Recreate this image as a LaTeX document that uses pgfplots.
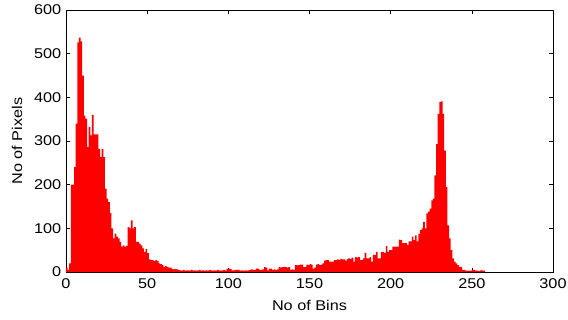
\documentclass[border=0pt]{standalone}
\usepackage{fontspec}
\setmainfont{Liberation Sans}[FakeStretch=1.15]
\usepackage{pgfplots}
\pgfplotsset{compat=1.18}
\begin{document}
\begin{tikzpicture}
\begin{axis}[name=ax,
  width=365.25pt, height=196.5pt, scale only axis,
  xmin=0, xmax=300, ymin=0, ymax=600,
  xtick={0,50,...,300}, ytick={0,100,...,600},
  tick align=inside, major tick length=3pt,
  axis line style={line width=0.6pt},
  every tick/.style={black, line width=0.5pt},
  /pgf/number format/assume math mode=true,
  tick label style={font=\fontsize{10.6}{12}\selectfont},
  label style={font=\fontsize{10.6}{12}\selectfont},
  xlabel={No of Bins}, ylabel={No of Pixels},
  xlabel style={at={(axis description cs:0.5,-0.126)}, anchor=center},
  ylabel style={at={(axis description cs:-0.1006,0.5)}, anchor=center},
  xticklabel style={yshift=-1.5pt},
]
\addplot[ybar interval, fill=red, draw=none] table {
x y
0 10
1 5
2 20
3 200
4 200
5 240
6 340
7 526
8 537
9 528
10 450
11 358
12 351
13 286
14 332
15 313
16 360
17 315
18 315
19 315
20 282
21 263
22 282
23 263
24 191
25 168
26 160
27 135
28 100
29 77
30 88
31 81
32 77
33 69
34 58
35 61
36 58
37 60
38 103
39 100
40 118
41 100
42 103
43 69
44 69
45 65
46 61
47 54
48 46
49 53
50 43
51 29
52 28
53 27
54 25
55 27
56 25
57 20
58 18
59 16
60 12
61 14
62 12
63 10
64 10
65 7
66 6
67 7
68 6
69 5
70 4
71 3
72 5
73 3
74 4
75 4
76 3
77 5
78 3
79 4
80 3
81 4
82 5
83 3
84 4
85 3
86 4
87 3
88 5
89 4
90 3
91 4
92 3
93 5
94 4
95 3
96 4
97 5
98 3
99 8
100 8
101 7
102 4
103 4
104 5
105 5
106 5
107 3
108 4
109 3
110 4
111 3
112 4
113 5
114 6
115 5
116 5
117 8
118 8
119 5
120 5
121 6
122 11
123 10
124 4
125 8
126 8
127 5
128 6
129 5
130 6
131 11
132 10
133 11
134 12
135 11
136 10
137 11
138 5
139 6
140 5
141 16
142 15
143 16
144 17
145 17
146 11
147 12
148 17
149 16
150 18
151 17
152 8
153 10
154 17
155 18
156 16
157 17
158 20
159 26
160 27
161 27
162 24
163 24
164 24
165 27
166 27
167 29
168 28
169 30
170 29
171 29
172 26
173 30
174 31
175 30
176 33
177 24
178 34
179 33
180 34
181 27
182 27
183 31
184 44
185 31
186 31
187 34
188 24
189 39
190 39
191 46
192 31
193 31
194 46
195 46
196 44
197 59
198 46
199 50
200 50
201 58
202 58
203 58
204 58
205 74
206 73
207 66
208 66
209 66
210 62
211 70
212 70
213 81
214 73
215 84
216 70
217 87
218 96
219 100
220 115
221 100
222 134
223 138
224 145
225 164
226 168
227 221
228 293
229 362
230 389
231 391
232 362
233 278
234 195
235 107
236 77
237 50
238 31
239 24
240 20
241 16
242 12
243 12
244 5
245 5
246 3
247 3
248 3
249 3
250 5
251 5
252 3
253 3
254 2
255 4
256 4
257 3
258 0
};
\end{axis}
\pgfresetboundingbox
\path ([shift={(-49.5pt,-35.25pt)}]ax.south west) rectangle ([shift={(11.25pt,7.5pt)}]ax.north east);
\end{tikzpicture}
\end{document}
